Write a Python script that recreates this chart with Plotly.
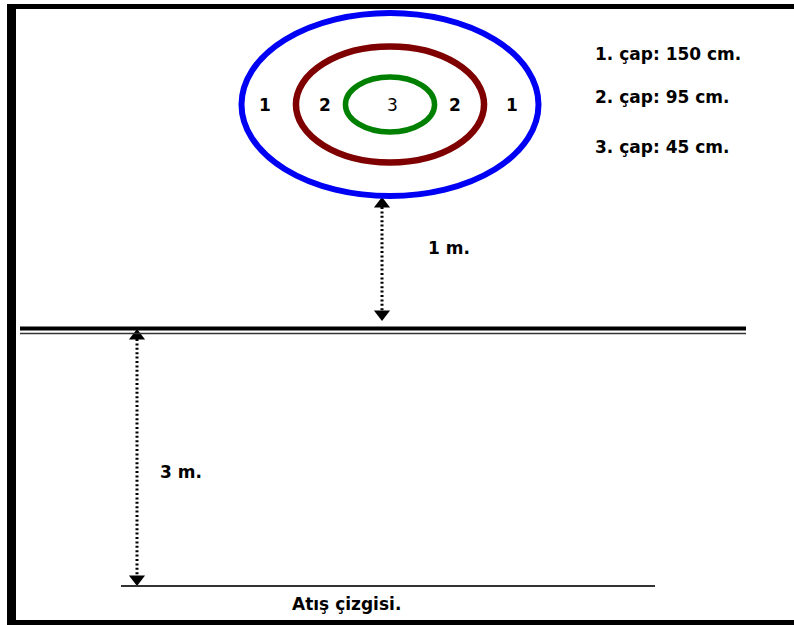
import plotly.graph_objects as go

# ---- data ----
ring_numbers = ["1", "2", "3"]
ring_diameters_cm = [150, 95, 45]
legend_labels = ["1. çap: 150 cm.", "2. çap: 95 cm.", "3. çap: 45 cm."]
distance_labels = ["1 m.", "3 m."]
line_label = "Atış çizgisi."

# ---- geometry / styles (pixel space) ----
W, H = 794, 625
cx, cy = 390, 104.5
kx, ky = 1.98, 1.22          # px per cm of radius (picture is stretched)
ring_colors = ["#0000f5", "#7f0000", "#008000"]
ring_widths = [6, 6.5, 5.5]
FONT = "DejaVu Sans"

shapes = []
# frame
shapes.append(dict(type="rect", x0=7, x1=16, y0=4, y1=625, fillcolor="black", line_width=0))
shapes.append(dict(type="rect", x0=7, x1=794, y0=4, y1=9, fillcolor="black", line_width=0))
shapes.append(dict(type="rect", x0=7, x1=794, y0=620, y1=625, fillcolor="black", line_width=0))

# rings
for d, col, lw in zip(ring_diameters_cm, ring_colors, ring_widths):
    rx, ry = d / 2 * kx, d / 2 * ky
    shapes.append(dict(type="circle", x0=cx - rx, x1=cx + rx, y0=cy - ry, y1=cy + ry,
                       line=dict(color=col, width=lw)))

# wall line (double)
shapes.append(dict(type="line", x0=20, x1=746, y0=328.5, y1=328.5, line=dict(color="black", width=4)))
shapes.append(dict(type="line", x0=20, x1=746, y0=333.5, y1=333.5, line=dict(color="#333", width=1.5)))
# shooting line
shapes.append(dict(type="line", x0=121, x1=655, y0=586, y1=586, line=dict(color="#333", width=1.8)))

fig = go.Figure()

# dimension arrows
arrows = [(382, 207, 311), (137, 339, 576)]
for ax_x, ya, yb in arrows:
    fig.add_trace(go.Scatter(x=[ax_x, ax_x], y=[ya, yb], mode="lines",
                             line=dict(color="black", width=3, dash="2px,2.4px"),
                             hoverinfo="skip", showlegend=False))
    fig.add_trace(go.Scatter(x=[ax_x], y=[ya - 3], mode="markers",
                             marker=dict(symbol="triangle-up", size=14, color="black"),
                             hoverinfo="skip", showlegend=False))
    fig.add_trace(go.Scatter(x=[ax_x], y=[yb + 3], mode="markers",
                             marker=dict(symbol="triangle-down", size=14, color="black"),
                             hoverinfo="skip", showlegend=False))

annotations = []
# ring numbers
ring_label_x = [265, 325, 392, 455, 512]
ring_label_txt = [ring_numbers[0], ring_numbers[1], ring_numbers[2], ring_numbers[1], ring_numbers[0]]
for x, t in zip(ring_label_x, ring_label_txt):
    bold = t != "3"
    annotations.append(dict(x=x, y=cy, text=("<b>%s</b>" % t) if bold else t, showarrow=False,
                            font=dict(family=FONT, size=17, color="black"),
                            xanchor="center", yanchor="middle"))
# legend texts
for y, t in zip([54, 97, 147], legend_labels):
    annotations.append(dict(x=593, y=y, text="<b>%s</b>" % t, showarrow=False,
                            font=dict(family=FONT, size=17, color="black"),
                            xanchor="left", yanchor="middle"))
# distances
annotations.append(dict(x=426, y=248, text="<b>%s</b>" % distance_labels[0], showarrow=False,
                        font=dict(family=FONT, size=17, color="black"), xanchor="left", yanchor="middle"))
annotations.append(dict(x=158, y=472, text="<b>%s</b>" % distance_labels[1], showarrow=False,
                        font=dict(family=FONT, size=17, color="black"), xanchor="left", yanchor="middle"))
annotations.append(dict(x=346, y=604, text="<b>%s</b>" % line_label, showarrow=False,
                        font=dict(family=FONT, size=17, color="black"), xanchor="center", yanchor="middle"))

fig.update_layout(
    width=W, height=H, margin=dict(l=0, r=0, t=0, b=0),
    paper_bgcolor="white", plot_bgcolor="white",
    xaxis=dict(range=[0, W], visible=False, fixedrange=True),
    yaxis=dict(range=[H, 0], visible=False, fixedrange=True),
    shapes=shapes, annotations=annotations, showlegend=False,
)

fig.write_html("out.html", config={"displayModeBar": False},
               post_script="document.body.style.margin='0';")
